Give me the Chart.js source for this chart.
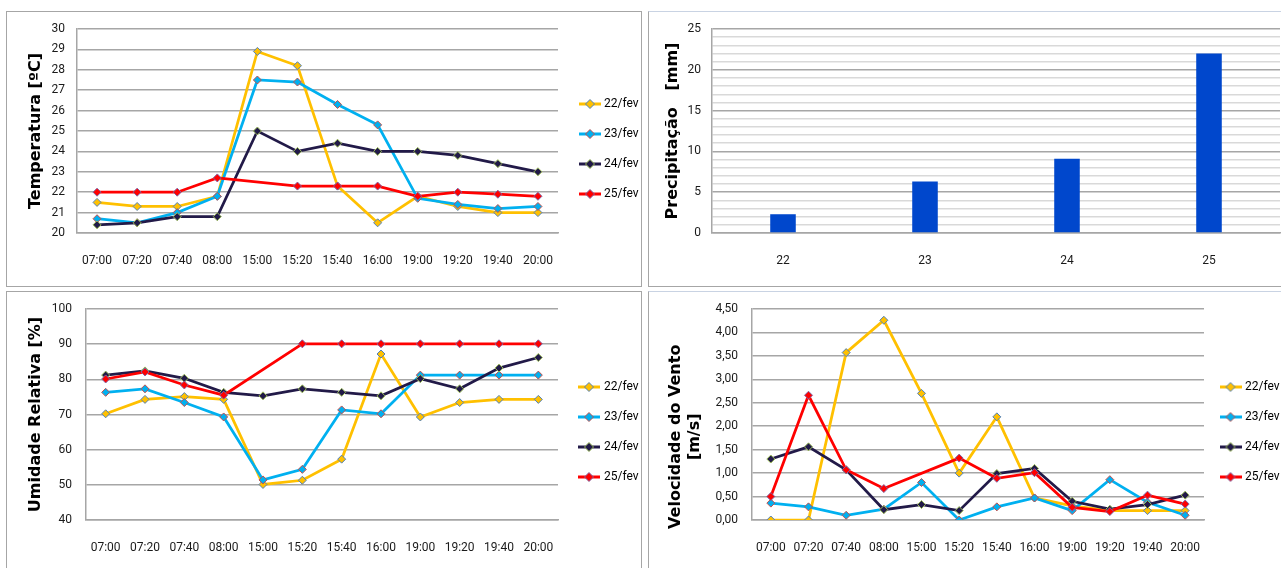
<!DOCTYPE html>
<html>
<head>
<meta charset="utf-8">
<script src="https://cdn.jsdelivr.net/npm/chart.js@4.4.1/dist/chart.umd.min.js"></script>
<style>
  html, body { margin: 0; padding: 0; background: #fff; }
  body { width: 1281px; height: 568px; position: relative; overflow: hidden; }
  .panel { position: absolute; border: 1px solid #a6a6a6; background: #fff; }
  .panel canvas { position: absolute; left: 0; top: 0; }
</style>
</head>
<body>
<div class="panel" style="left:6px; top:11px; width:634px; height:274px;"><canvas id="temp" width="634" height="274"></canvas></div>
<div class="panel" style="left:648px; top:11px; width:640px; height:274px; border-top-color:#c9d3e3;"><canvas id="precip" width="632" height="274"></canvas></div>
<div class="panel" style="left:6px; top:291px; width:634px; height:290px;"><canvas id="umid" width="634" height="276"></canvas></div>
<div class="panel" style="left:648px; top:291px; width:640px; height:290px; border-top-color:#c9d3e3;"><canvas id="vento" width="632" height="276"></canvas></div>
<script>
// horarios e dias
const horas = ['07:00', '07:20', '07:40', '08:00', '15:00', '15:20', '15:40', '16:00', '19:00', '19:20', '19:40', '20:00'];
const dias = ['22/fev', '23/fev', '24/fev', '25/fev'];

// temperatura [ºC]
const temp22 = [21.5, 21.3, 21.3, 21.8, 28.9, 28.2, 22.3, 20.5, 21.8, 21.3, 21.0, 21.0];
const temp23 = [20.7, 20.5, 21.0, 21.8, 27.5, 27.4, 26.3, 25.3, 21.7, 21.4, 21.2, 21.3];
const temp24 = [20.4, 20.5, 20.8, 20.8, 25.0, 24.0, 24.4, 24.0, 24.0, 23.8, 23.4, 23.0];
const temp25 = [22.0, 22.0, 22.0, 22.7, null, 22.3, 22.3, 22.3, 21.8, 22.0, 21.9, 21.8];

// umidade relativa [%]
const umid22 = [70.2, 74.3, 75.1, 74.3, 50.1, 51.3, 57.3, 87.2, 69.3, 73.4, 74.3, 74.3];
const umid23 = [76.3, 77.3, 73.4, 69.3, 51.4, 54.4, 71.3, 70.2, 81.2, 81.2, 81.2, 81.2];
const umid24 = [81.2, 82.4, 80.3, 76.3, 75.3, 77.3, 76.3, 75.3, 80.2, 77.3, 83.2, 86.2];
const umid25 = [80.1, 82.1, 78.4, 75.5, null, 90.1, 90.1, 90.1, 90.1, 90.1, 90.1, 90.1];

// velocidade do vento [m/s]
const vento22 = [0.00, 0.00, 3.57, 4.26, 2.70, 1.00, 2.20, 0.47, 0.30, 0.20, 0.20, 0.20];
const vento23 = [0.36, 0.28, 0.10, 0.23, 0.80, 0.00, 0.28, 0.47, 0.20, 0.86, 0.38, 0.10];
const vento24 = [1.30, 1.56, 1.07, 0.22, 0.33, 0.20, 0.99, 1.10, 0.40, 0.23, 0.33, 0.53];
const vento25 = [0.50, 2.66, 1.07, 0.67, null, 1.32, 0.89, 1.01, 0.27, 0.18, 0.53, 0.34];

// precipitacao [mm]
const precipDias = ['22', '23', '24', '25'];
const precipMm = [2.3, 6.3, 9.1, 22.0];

const cores = ['#ffc000', '#00b0f0', '#221a48', '#ff0000'];
const bordas = ['#4f81bd', '#c0504d', '#9bbb59', '#8064a2'];
const fonte = "Roboto, 'Liberation Sans', sans-serif";
const fonteTitulo = {family: "'DejaVu Sans', Verdana, sans-serif", weight: 'bold', size: 16};
const corGrade = '#a6a6a6';

Chart.defaults.animation = false;
Chart.defaults.color = '#1a1a1a';

// little line + diamond symbol for the legend, with an optional empty margin on the left
function iconeLegenda(i, margem) {
    const c = document.createElement('canvas');
    c.width = 22 + margem;
    c.height = 12;
    const g = c.getContext('2d');
    const meio = margem + 11;
    g.strokeStyle = cores[i];
    g.lineWidth = 3;
    g.beginPath(); g.moveTo(margem, 6); g.lineTo(margem + 22, 6); g.stroke();
    g.beginPath(); g.moveTo(meio, 1.5); g.lineTo(meio + 4.5, 6); g.lineTo(meio, 10.5); g.lineTo(meio - 4.5, 6); g.closePath();
    g.fillStyle = cores[i]; g.fill();
    g.strokeStyle = bordas[i]; g.lineWidth = 1; g.stroke();
    return c;
}

function conjuntos(series) {
    return series.map((valores, i) => ({
        label: dias[i],
        data: valores,
        borderColor: cores[i],
        backgroundColor: cores[i],
        borderWidth: 2.75,
        pointStyle: 'rectRot',
        pointRadius: 4,
        pointBorderWidth: 1,
        pointBackgroundColor: cores[i],
        pointBorderColor: bordas[i],
        spanGaps: true,
        tension: 0,
        order: 4 - i // later days drawn on top, like the original
    }));
}

function graficoLinhas(id, series, o) {
    const icones = dias.map((d, i) => iconeLegenda(i, o.iconMargin));
    return new Chart(document.getElementById(id), {
        type: 'line',
        data: {labels: horas, datasets: conjuntos(series)},
        options: {
            responsive: false,
            layout: {padding: {top: 17, bottom: o.padBottom, left: 0, right: 0}},
            plugins: {
                tooltip: {enabled: false},
                legend: {
                    position: 'right',
                    maxWidth: o.legendWidth,
                    labels: {
                        usePointStyle: true,
                        pointStyleWidth: o.boxWidth,
                        boxHeight: 12,
                        padding: 18,
                        color: '#000',
                        font: {family: fonte, size: 12},
                        sort: (a, b) => a.datasetIndex - b.datasetIndex,
                        generateLabels: chart => Chart.defaults.plugins.legend.labels.generateLabels(chart)
                            .map(l => Object.assign(l, {pointStyle: icones[l.datasetIndex]}))
                    }
                }
            },
            scales: {
                x: {
                    offset: true,
                    grid: {display: false, drawTicks: false},
                    border: {color: corGrade, width: 1.5},
                    ticks: {padding: 21, maxRotation: 0, autoSkip: false, font: {family: fonte, size: 12}},
                    afterFit: s => { s.height = o.xHeight; }
                },
                y: {
                    min: o.min, max: o.max,
                    ticks: {stepSize: o.step, padding: 2, autoSkip: false, font: {family: fonte, size: 12}, callback: o.formato},
                    grid: {color: corGrade, lineWidth: 1.5, drawTicks: true, tickLength: o.tickPad, tickColor: 'transparent'},
                    border: {color: corGrade, width: 1.5},
                    title: {display: true, text: o.titulo, color: '#000', font: fonteTitulo, padding: {top: o.titlePad, bottom: 0}},
                    afterFit: s => { s.width = o.yWidth; }
                }
            }
        }
    });
}

graficoLinhas('temp', [temp22, temp23, temp24, temp25], {
    min: 20, max: 30, step: 1, titulo: 'Temperatura [ºC]',
    yWidth: 70, xHeight: 36, padBottom: 17, legendWidth: 83, tickPad: 10, titlePad: 19,
    boxWidth: 22, iconMargin: 6
});

graficoLinhas('umid', [umid22, umid23, umid24, umid25], {
    min: 40, max: 100, step: 10, titulo: 'Umidade Relativa [%]',
    yWidth: 79, xHeight: 35, padBottom: 13, legendWidth: 83, tickPad: 12, titlePad: 19,
    boxWidth: 22, iconMargin: 4
});

graficoLinhas('vento', [vento22, vento23, vento24, vento25], {
    min: 0, max: 4.5, step: 0.5,
    titulo: ['Velocidade do Vento        ', '[m/s]        '],
    yWidth: 103, xHeight: 35, padBottom: 13, legendWidth: 77, tickPad: 12, titlePad: 17,
    boxWidth: 17, iconMargin: 0,
    formato: v => v.toFixed(2).replace('.', ',')
});

new Chart(document.getElementById('precip'), {
    type: 'bar',
    data: {
        labels: precipDias,
        datasets: [{data: precipMm, backgroundColor: '#0047cc', barPercentage: 0.18, categoryPercentage: 1}]
    },
    options: {
        responsive: false,
        layout: {padding: {top: 17, bottom: 17, left: 0, right: 1}},
        plugins: {legend: {display: false}, tooltip: {enabled: false}},
        scales: {
            x: {
                grid: {display: false, drawTicks: false},
                border: {color: corGrade, width: 1.5},
                ticks: {padding: 21, font: {family: fonte, size: 12}},
                afterFit: s => { s.height = 36; }
            },
            y: {
                min: 0, max: 25,
                ticks: {stepSize: 1, autoSkip: false, padding: 2, font: {family: fonte, size: 12},
                    callback: v => (v % 5 === 0 ? v : '')},
                grid: {drawTicks: true, tickLength: 9, tickColor: 'transparent', lineWidth: 1.5,
                    color: c => (c.tick && c.tick.value % 5 === 0 ? corGrade : '#d9d9d9')},
                border: {color: corGrade, width: 1.5},
                title: {display: true, text: 'Precipitação   [mm]', color: '#000', font: fonteTitulo, padding: {top: 14, bottom: 0}},
                afterFit: s => { s.width = 63; }
            }
        }
    }
});
</script>
</body>
</html>
